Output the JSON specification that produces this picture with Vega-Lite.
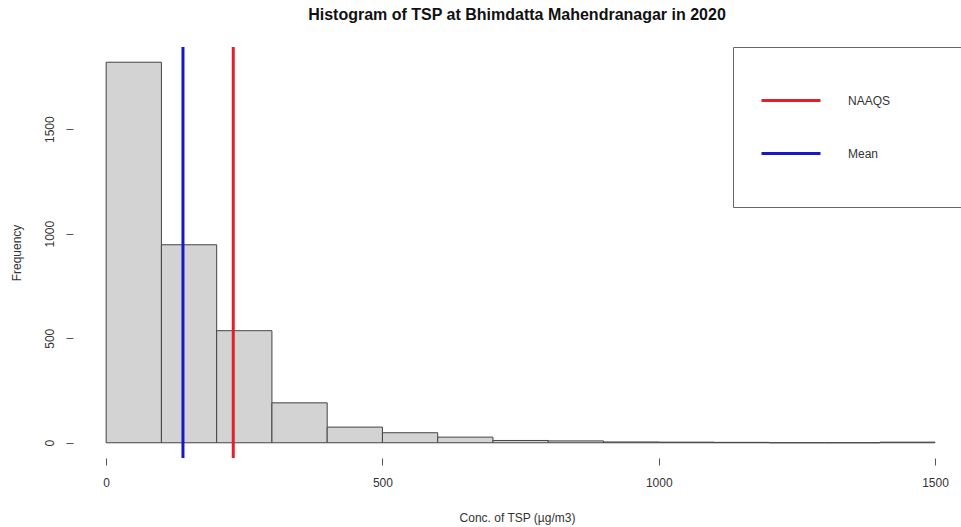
{
  "$schema": "https://vega.github.io/schema/vega-lite/v6.json",
  "autosize": "none",
  "width": 888,
  "height": 411,
  "padding": {"left": 73, "top": 47, "right": 0, "bottom": 69},
  "background": "white",
  "title": {
    "text": "Histogram of TSP at Bhimdatta Mahendranagar in 2020",
    "font": "Liberation Sans",
    "fontSize": 16,
    "fontWeight": "bold",
    "color": "#111",
    "anchor": "middle",
    "offset": 23
  },
  "config": {
    "view": {"stroke": null},
    "axis": {
      "labelFont": "Liberation Sans",
      "titleFont": "Liberation Sans",
      "labelFontSize": 12,
      "titleFontSize": 12,
      "titleFontWeight": "normal",
      "labelColor": "#333",
      "titleColor": "#333",
      "tickColor": "#555",
      "tickSize": 7,
      "domain": false,
      "grid": false,
      "format": "d"
    },
    "legend": {
      "orient": "none",
      "legendX": 660,
      "legendY": 0,
      "padding": 27,
      "strokeColor": "#666",
      "fillColor": "white",
      "symbolType": "stroke",
      "symbolSize": 3481,
      "symbolStrokeWidth": 3,
      "clipHeight": 53,
      "rowPadding": 0,
      "labelOffset": 26,
      "labelFont": "Liberation Sans",
      "labelFontSize": 12,
      "labelColor": "#333",
      "titleOrient": "right",
      "titleColor": "white",
      "titleFont": "Liberation Sans",
      "titleFontSize": 12,
      "titleFontWeight": "normal",
      "titlePadding": 4
    }
  },
  "datasets": {
    "bins": [
      {"bin_start": 0, "bin_end": 100, "count": 1820},
      {"bin_start": 100, "bin_end": 200, "count": 947},
      {"bin_start": 200, "bin_end": 300, "count": 536},
      {"bin_start": 300, "bin_end": 400, "count": 191},
      {"bin_start": 400, "bin_end": 500, "count": 75},
      {"bin_start": 500, "bin_end": 600, "count": 48},
      {"bin_start": 600, "bin_end": 700, "count": 27},
      {"bin_start": 700, "bin_end": 800, "count": 11},
      {"bin_start": 800, "bin_end": 900, "count": 9},
      {"bin_start": 900, "bin_end": 1000, "count": 4},
      {"bin_start": 1000, "bin_end": 1100, "count": 3},
      {"bin_start": 1100, "bin_end": 1200, "count": 2},
      {"bin_start": 1200, "bin_end": 1300, "count": 0},
      {"bin_start": 1300, "bin_end": 1400, "count": 0},
      {"bin_start": 1400, "bin_end": 1500, "count": 3}
    ],
    "lines": [
      {"label": "NAAQS", "value": 230},
      {"label": "Mean", "value": 139}
    ]
  },
  "layer": [
    {
      "data": {"name": "bins"},
      "mark": {"type": "rect", "fill": "#d3d3d3", "stroke": "#444", "strokeWidth": 1},
      "encoding": {
        "x": {
          "field": "bin_start",
          "type": "quantitative",
          "scale": {"domain": [-60, 1547], "nice": false, "zero": false},
          "axis": {"values": [0, 500, 1000, 1500], "title": "Conc. of TSP (µg/m3)", "labelPadding": 12, "titlePadding": 24, "labelFlush": false}
        },
        "x2": {"field": "bin_end"},
        "y": {
          "field": "count",
          "type": "quantitative",
          "scale": {"domain": [-72.8, 1892.8], "nice": false, "zero": false},
          "axis": {"values": [0, 500, 1000, 1500], "title": "Frequency", "labelAngle": 270, "labelAlign": "center", "labelBaseline": "bottom", "labelPadding": 10, "titlePadding": 20}
        },
        "y2": {"datum": 0}
      }
    },
    {
      "mark": {"type": "rule", "color": "#555", "strokeWidth": 1},
      "encoding": {"x": {"datum": 0}, "x2": {"datum": 1500}, "y": {"datum": -72.8}}
    },
    {
      "mark": {"type": "rule", "color": "#555", "strokeWidth": 1},
      "encoding": {"y": {"datum": 0}, "y2": {"datum": 1500}, "x": {"datum": -60}}
    },
    {
      "data": {"name": "lines"},
      "mark": {"type": "rule", "strokeWidth": 3},
      "encoding": {
        "x": {"field": "value", "type": "quantitative"},
        "color": {
          "field": "label",
          "type": "nominal",
          "scale": {"domain": ["NAAQS", "Mean"], "range": ["#e0202c", "#1818c8"]},
          "legend": {"title": "NNNNN"}
        }
      }
    }
  ]
}
